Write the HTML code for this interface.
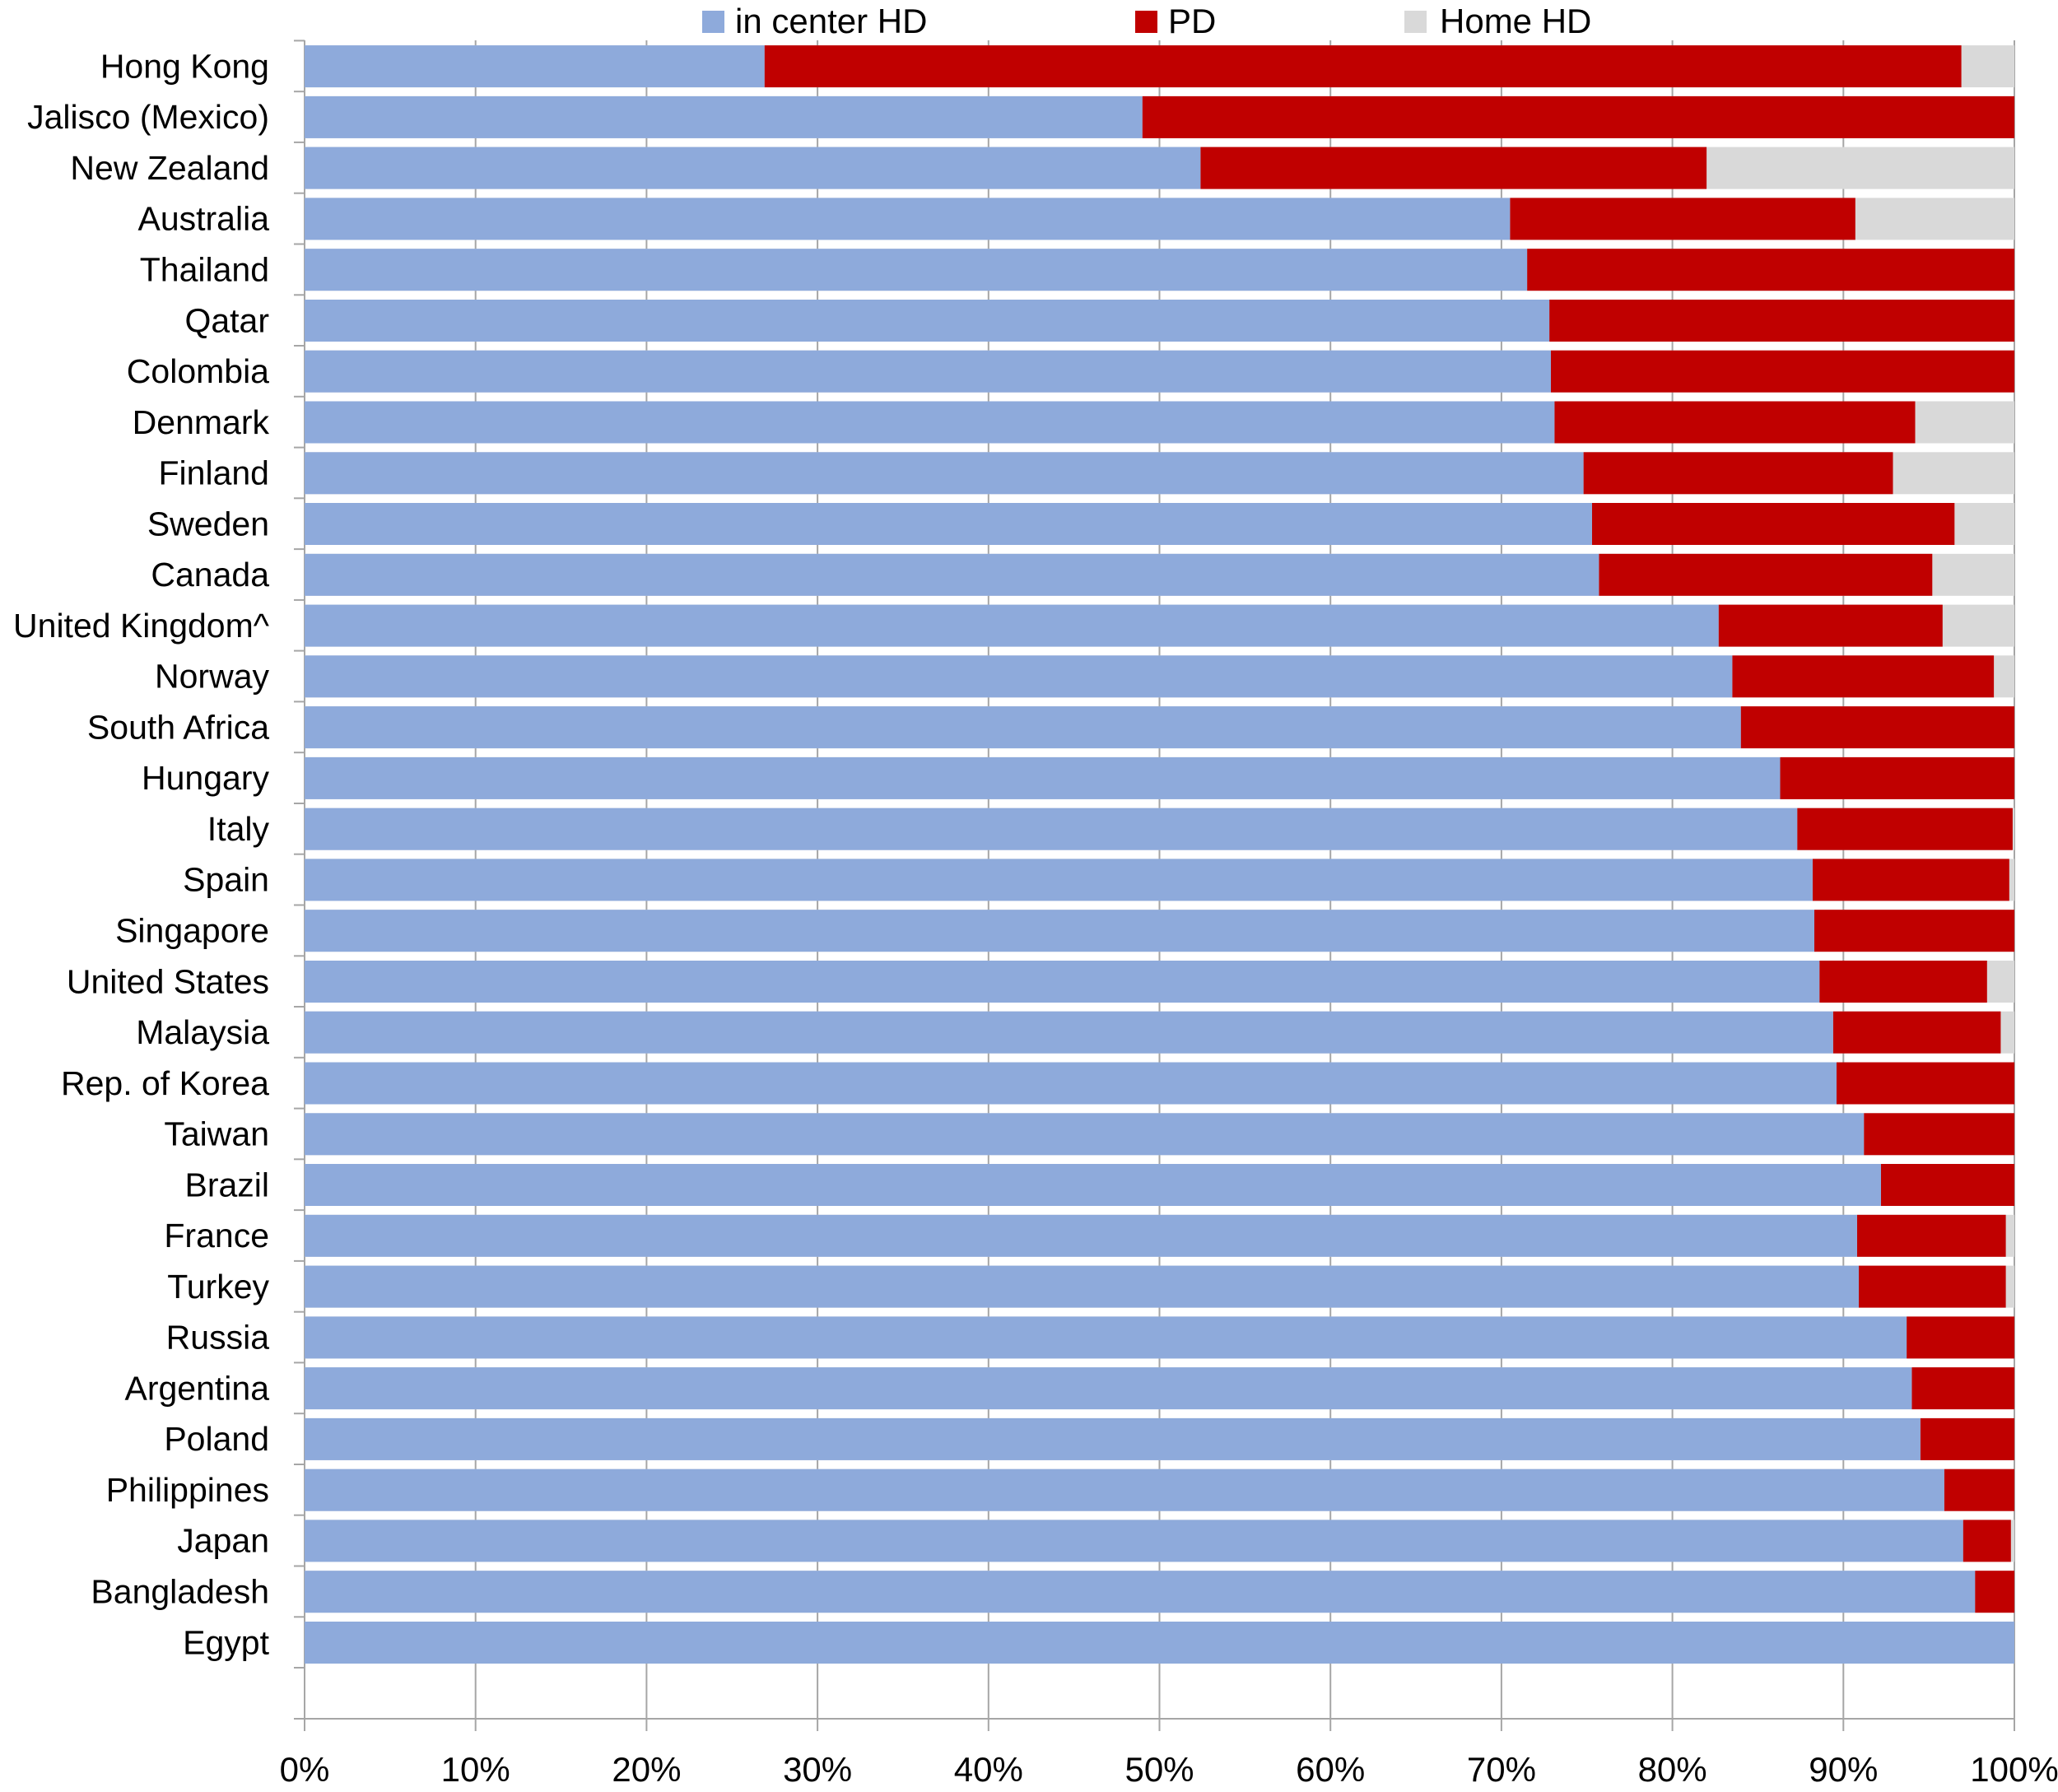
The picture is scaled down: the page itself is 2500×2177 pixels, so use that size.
<!DOCTYPE html>
<html><head><meta charset="utf-8"><style>
html,body{margin:0;padding:0;background:#fff;}
svg{display:block;font-family:"Liberation Sans",sans-serif;}
</style></head><body>
<svg width="2500" height="2177" viewBox="0 0 2500 2177" xmlns="http://www.w3.org/2000/svg">
<!-- legend -->
<rect x="853" y="13" width="27" height="27" fill="#8eaadb"/>
<text x="893" y="40" font-size="42" fill="#000">in center HD</text>
<rect x="1379" y="13" width="27" height="27" fill="#c00000"/>
<text x="1419" y="40" font-size="42" fill="#000">PD</text>
<rect x="1706" y="13" width="27" height="27" fill="#d9d9d9"/>
<text x="1749" y="40" font-size="42" fill="#000">Home HD</text>
<!-- gridlines -->
<g stroke="#a6a6a6" stroke-width="2">
<line x1="577.7" y1="49" x2="577.7" y2="2103"/>
<line x1="785.4" y1="49" x2="785.4" y2="2103"/>
<line x1="993.1" y1="49" x2="993.1" y2="2103"/>
<line x1="1200.8" y1="49" x2="1200.8" y2="2103"/>
<line x1="1408.5" y1="49" x2="1408.5" y2="2103"/>
<line x1="1616.2" y1="49" x2="1616.2" y2="2103"/>
<line x1="1823.9" y1="49" x2="1823.9" y2="2103"/>
<line x1="2031.6" y1="49" x2="2031.6" y2="2103"/>
<line x1="2239.3" y1="49" x2="2239.3" y2="2103"/>
<line x1="2447" y1="49" x2="2447" y2="2103"/>
<line x1="370" y1="49" x2="370" y2="2103"/>
<line x1="357" y1="2088" x2="2447" y2="2088"/>
</g>
<g font-size="41" text-anchor="end" fill="#000">
<g transform="translate(0,49.4)"><rect x="370" y="5.7" width="2077" height="51" fill="#d9d9d9"/><rect x="928.7" y="5.7" width="1453.9" height="51" fill="#c00000"/><rect x="370" y="5.7" width="558.7" height="51" fill="#8eaadb"/><text x="327" y="45">Hong Kong</text></g>
<g transform="translate(0,111.2)"><rect x="370" y="5.7" width="2077" height="51" fill="#d9d9d9"/><rect x="1387.7" y="5.7" width="1059.3" height="51" fill="#c00000"/><rect x="370" y="5.7" width="1017.7" height="51" fill="#8eaadb"/><text x="327" y="45">Jalisco (Mexico)</text></g>
<g transform="translate(0,172.9)"><rect x="370" y="5.7" width="2077" height="51" fill="#d9d9d9"/><rect x="1458.3" y="5.7" width="614.8" height="51" fill="#c00000"/><rect x="370" y="5.7" width="1088.3" height="51" fill="#8eaadb"/><text x="327" y="45">New Zealand</text></g>
<g transform="translate(0,234.7)"><rect x="370" y="5.7" width="2077" height="51" fill="#d9d9d9"/><rect x="1834.3" y="5.7" width="419.5" height="51" fill="#c00000"/><rect x="370" y="5.7" width="1464.3" height="51" fill="#8eaadb"/><text x="327" y="45">Australia</text></g>
<g transform="translate(0,296.5)"><rect x="370" y="5.7" width="2077" height="51" fill="#d9d9d9"/><rect x="1855.1" y="5.7" width="591.9" height="51" fill="#c00000"/><rect x="370" y="5.7" width="1485.1" height="51" fill="#8eaadb"/><text x="327" y="45">Thailand</text></g>
<g transform="translate(0,358.3)"><rect x="370" y="5.7" width="2077" height="51" fill="#d9d9d9"/><rect x="1882.1" y="5.7" width="564.9" height="51" fill="#c00000"/><rect x="370" y="5.7" width="1512.1" height="51" fill="#8eaadb"/><text x="327" y="45">Qatar</text></g>
<g transform="translate(0,420.0)"><rect x="370" y="5.7" width="2077" height="51" fill="#d9d9d9"/><rect x="1884" y="5.7" width="563" height="51" fill="#c00000"/><rect x="370" y="5.7" width="1514" height="51" fill="#8eaadb"/><text x="327" y="45">Colombia</text></g>
<g transform="translate(0,481.8)"><rect x="370" y="5.7" width="2077" height="51" fill="#d9d9d9"/><rect x="1888.3" y="5.7" width="438.2" height="51" fill="#c00000"/><rect x="370" y="5.7" width="1518.3" height="51" fill="#8eaadb"/><text x="327" y="45">Denmark</text></g>
<g transform="translate(0,543.6)"><rect x="370" y="5.7" width="2077" height="51" fill="#d9d9d9"/><rect x="1923.6" y="5.7" width="375.9" height="51" fill="#c00000"/><rect x="370" y="5.7" width="1553.6" height="51" fill="#8eaadb"/><text x="327" y="45">Finland</text></g>
<g transform="translate(0,605.3)"><rect x="370" y="5.7" width="2077" height="51" fill="#d9d9d9"/><rect x="1934" y="5.7" width="440.3" height="51" fill="#c00000"/><rect x="370" y="5.7" width="1564" height="51" fill="#8eaadb"/><text x="327" y="45">Sweden</text></g>
<g transform="translate(0,667.1)"><rect x="370" y="5.7" width="2077" height="51" fill="#d9d9d9"/><rect x="1942.3" y="5.7" width="405" height="51" fill="#c00000"/><rect x="370" y="5.7" width="1572.3" height="51" fill="#8eaadb"/><text x="327" y="45">Canada</text></g>
<g transform="translate(0,728.9)"><rect x="370" y="5.7" width="2077" height="51" fill="#d9d9d9"/><rect x="2087.7" y="5.7" width="272.1" height="51" fill="#c00000"/><rect x="370" y="5.7" width="1717.7" height="51" fill="#8eaadb"/><text x="327" y="45">United Kingdom^</text></g>
<g transform="translate(0,790.6)"><rect x="370" y="5.7" width="2077" height="51" fill="#d9d9d9"/><rect x="2104.3" y="5.7" width="317.8" height="51" fill="#c00000"/><rect x="370" y="5.7" width="1734.3" height="51" fill="#8eaadb"/><text x="327" y="45">Norway</text></g>
<g transform="translate(0,852.4)"><rect x="370" y="5.7" width="2077" height="51" fill="#d9d9d9"/><rect x="2114.7" y="5.7" width="332.3" height="51" fill="#c00000"/><rect x="370" y="5.7" width="1744.7" height="51" fill="#8eaadb"/><text x="327" y="45">South Africa</text></g>
<g transform="translate(0,914.2)"><rect x="370" y="5.7" width="2077" height="51" fill="#d9d9d9"/><rect x="2162.5" y="5.7" width="284.5" height="51" fill="#c00000"/><rect x="370" y="5.7" width="1792.5" height="51" fill="#8eaadb"/><text x="327" y="45">Hungary</text></g>
<g transform="translate(0,976.0)"><rect x="370" y="5.7" width="2077" height="51" fill="#d9d9d9"/><rect x="2183.2" y="5.7" width="261.7" height="51" fill="#c00000"/><rect x="370" y="5.7" width="1813.2" height="51" fill="#8eaadb"/><text x="327" y="45">Italy</text></g>
<g transform="translate(0,1037.7)"><rect x="370" y="5.7" width="2077" height="51" fill="#d9d9d9"/><rect x="2201.9" y="5.7" width="238.9" height="51" fill="#c00000"/><rect x="370" y="5.7" width="1831.9" height="51" fill="#8eaadb"/><text x="327" y="45">Spain</text></g>
<g transform="translate(0,1099.5)"><rect x="370" y="5.7" width="2077" height="51" fill="#d9d9d9"/><rect x="2204" y="5.7" width="243" height="51" fill="#c00000"/><rect x="370" y="5.7" width="1834" height="51" fill="#8eaadb"/><text x="327" y="45">Singapore</text></g>
<g transform="translate(0,1161.3)"><rect x="370" y="5.7" width="2077" height="51" fill="#d9d9d9"/><rect x="2210.2" y="5.7" width="203.6" height="51" fill="#c00000"/><rect x="370" y="5.7" width="1840.2" height="51" fill="#8eaadb"/><text x="327" y="45">United States</text></g>
<g transform="translate(0,1223.0)"><rect x="370" y="5.7" width="2077" height="51" fill="#d9d9d9"/><rect x="2226.8" y="5.7" width="203.6" height="51" fill="#c00000"/><rect x="370" y="5.7" width="1856.8" height="51" fill="#8eaadb"/><text x="327" y="45">Malaysia</text></g>
<g transform="translate(0,1284.8)"><rect x="370" y="5.7" width="2077" height="51" fill="#d9d9d9"/><rect x="2231" y="5.7" width="216" height="51" fill="#c00000"/><rect x="370" y="5.7" width="1861" height="51" fill="#8eaadb"/><text x="327" y="45">Rep. of Korea</text></g>
<g transform="translate(0,1346.6)"><rect x="370" y="5.7" width="2077" height="51" fill="#d9d9d9"/><rect x="2264.2" y="5.7" width="182.8" height="51" fill="#c00000"/><rect x="370" y="5.7" width="1894.2" height="51" fill="#8eaadb"/><text x="327" y="45">Taiwan</text></g>
<g transform="translate(0,1408.3)"><rect x="370" y="5.7" width="2077" height="51" fill="#d9d9d9"/><rect x="2285" y="5.7" width="162" height="51" fill="#c00000"/><rect x="370" y="5.7" width="1915" height="51" fill="#8eaadb"/><text x="327" y="45">Brazil</text></g>
<g transform="translate(0,1470.1)"><rect x="370" y="5.7" width="2077" height="51" fill="#d9d9d9"/><rect x="2255.9" y="5.7" width="180.7" height="51" fill="#c00000"/><rect x="370" y="5.7" width="1885.9" height="51" fill="#8eaadb"/><text x="327" y="45">France</text></g>
<g transform="translate(0,1531.9)"><rect x="370" y="5.7" width="2077" height="51" fill="#d9d9d9"/><rect x="2258" y="5.7" width="178.6" height="51" fill="#c00000"/><rect x="370" y="5.7" width="1888" height="51" fill="#8eaadb"/><text x="327" y="45">Turkey</text></g>
<g transform="translate(0,1593.7)"><rect x="370" y="5.7" width="2077" height="51" fill="#d9d9d9"/><rect x="2316.1" y="5.7" width="130.9" height="51" fill="#c00000"/><rect x="370" y="5.7" width="1946.1" height="51" fill="#8eaadb"/><text x="327" y="45">Russia</text></g>
<g transform="translate(0,1655.4)"><rect x="370" y="5.7" width="2077" height="51" fill="#d9d9d9"/><rect x="2322.4" y="5.7" width="124.6" height="51" fill="#c00000"/><rect x="370" y="5.7" width="1952.4" height="51" fill="#8eaadb"/><text x="327" y="45">Argentina</text></g>
<g transform="translate(0,1717.2)"><rect x="370" y="5.7" width="2077" height="51" fill="#d9d9d9"/><rect x="2332.8" y="5.7" width="114.2" height="51" fill="#c00000"/><rect x="370" y="5.7" width="1962.8" height="51" fill="#8eaadb"/><text x="327" y="45">Poland</text></g>
<g transform="translate(0,1779.0)"><rect x="370" y="5.7" width="2077" height="51" fill="#d9d9d9"/><rect x="2361.8" y="5.7" width="85.2" height="51" fill="#c00000"/><rect x="370" y="5.7" width="1991.8" height="51" fill="#8eaadb"/><text x="327" y="45">Philippines</text></g>
<g transform="translate(0,1840.7)"><rect x="370" y="5.7" width="2077" height="51" fill="#d9d9d9"/><rect x="2384.7" y="5.7" width="58.1" height="51" fill="#c00000"/><rect x="370" y="5.7" width="2014.7" height="51" fill="#8eaadb"/><text x="327" y="45">Japan</text></g>
<g transform="translate(0,1902.5)"><rect x="370" y="5.7" width="2077" height="51" fill="#d9d9d9"/><rect x="2399.2" y="5.7" width="47.8" height="51" fill="#c00000"/><rect x="370" y="5.7" width="2029.2" height="51" fill="#8eaadb"/><text x="327" y="45">Bangladesh</text></g>
<g transform="translate(0,1964.3)"><rect x="370" y="5.7" width="2077" height="51" fill="#8eaadb"/><text x="327" y="45">Egypt</text></g>
</g>
<!-- left ticks -->
<g stroke="#a6a6a6" stroke-width="2">
<line x1="357" y1="49.4" x2="370" y2="49.4"/><line x1="357" y1="111.2" x2="370" y2="111.2"/><line x1="357" y1="172.9" x2="370" y2="172.9"/><line x1="357" y1="234.7" x2="370" y2="234.7"/><line x1="357" y1="296.5" x2="370" y2="296.5"/><line x1="357" y1="358.3" x2="370" y2="358.3"/><line x1="357" y1="420" x2="370" y2="420"/><line x1="357" y1="481.8" x2="370" y2="481.8"/><line x1="357" y1="543.6" x2="370" y2="543.6"/><line x1="357" y1="605.3" x2="370" y2="605.3"/><line x1="357" y1="667.1" x2="370" y2="667.1"/><line x1="357" y1="728.9" x2="370" y2="728.9"/><line x1="357" y1="790.6" x2="370" y2="790.6"/><line x1="357" y1="852.4" x2="370" y2="852.4"/><line x1="357" y1="914.2" x2="370" y2="914.2"/><line x1="357" y1="976" x2="370" y2="976"/><line x1="357" y1="1037.7" x2="370" y2="1037.7"/><line x1="357" y1="1099.5" x2="370" y2="1099.5"/><line x1="357" y1="1161.3" x2="370" y2="1161.3"/><line x1="357" y1="1223" x2="370" y2="1223"/><line x1="357" y1="1284.8" x2="370" y2="1284.8"/><line x1="357" y1="1346.6" x2="370" y2="1346.6"/><line x1="357" y1="1408.3" x2="370" y2="1408.3"/><line x1="357" y1="1470.1" x2="370" y2="1470.1"/><line x1="357" y1="1531.9" x2="370" y2="1531.9"/><line x1="357" y1="1593.7" x2="370" y2="1593.7"/><line x1="357" y1="1655.4" x2="370" y2="1655.4"/><line x1="357" y1="1717.2" x2="370" y2="1717.2"/><line x1="357" y1="1779" x2="370" y2="1779"/><line x1="357" y1="1840.7" x2="370" y2="1840.7"/><line x1="357" y1="1902.5" x2="370" y2="1902.5"/><line x1="357" y1="1964.3" x2="370" y2="1964.3"/><line x1="357" y1="2026" x2="370" y2="2026"/>
</g>
<g font-size="42" text-anchor="middle" fill="#000">
<text x="370" y="2164">0%</text><text x="577.7" y="2164">10%</text><text x="785.4" y="2164">20%</text><text x="993.1" y="2164">30%</text><text x="1200.8" y="2164">40%</text><text x="1408.5" y="2164">50%</text><text x="1616.2" y="2164">60%</text><text x="1823.9" y="2164">70%</text><text x="2031.6" y="2164">80%</text><text x="2239.3" y="2164">90%</text><text x="2447" y="2164">100%</text>
</g>
</svg>
</body></html>
